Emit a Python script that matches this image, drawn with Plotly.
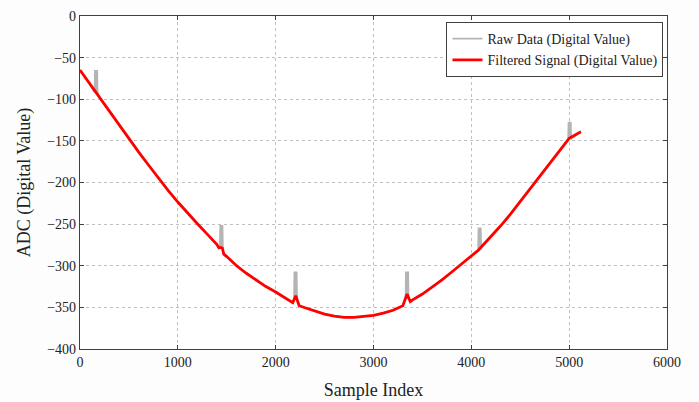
import plotly.graph_objects as go

# Filtered (smoothed) ADC signal: sample index -> digital value
filt_idx = [0, 100, 200, 300, 400, 500, 600, 700, 800, 900, 1000, 1100, 1200,
            1300, 1400, 1420, 1440, 1455, 1470, 1500, 1600, 1700, 1800, 1900,
            2000, 2100, 2175, 2205, 2240, 2300, 2400, 2500, 2600, 2700, 2800,
            2900, 3000, 3100, 3200, 3300, 3343, 3376, 3400, 3500, 3600, 3700,
            3800, 3900, 4000, 4070, 4090, 4110, 4200, 4300, 4400, 4500, 4600,
            4700, 4800, 4900, 5000, 5120]
filt_val = [-65, -81.5, -98, -114.5, -131, -147.5, -163.5, -179, -194.5, -209.5,
            -223.5, -237, -249.5, -262, -274.5, -278.5, -278, -279, -286, -289,
            -300, -309, -317.5, -325, -331.5, -338.5, -344.5, -336, -348,
            -350.5, -354.5, -358, -360.5, -362, -362, -361, -359.5, -357,
            -353.5, -348, -334, -343, -341, -334, -326, -317, -307.5, -298,
            -289, -281.5, -279, -276.5, -265.5, -252, -238, -223, -208, -193,
            -177.5, -162, -147, -139]

# Raw samples: same trace as the filtered signal apart from short glitch bursts
glitch_idx = [164, 1445, 2203, 3343, 4085, 5005]
glitch_top = [-65, -251, -307, -307, -254, -127]
glitch_base = [-92, -279, -340, -340, -280, -148]

burst_offsets = [-16, -12, -8, -4, 0, 4, 8, 12, 16]

raw_x, raw_y = [], []
gi = 0
for sx, sv in zip(filt_idx, filt_val):
    while gi < len(glitch_idx) and glitch_idx[gi] < sx:
        for k, off in enumerate(burst_offsets):
            raw_x.append(glitch_idx[gi] + off)
            raw_y.append(glitch_top[gi] if k % 2 else glitch_base[gi])
        gi += 1
    raw_x.append(sx)
    raw_y.append(sv)

FONT = "Liberation Serif, Times New Roman, serif"

fig = go.Figure()
fig.add_trace(go.Scatter(
    x=raw_x, y=raw_y, mode="lines", name="Raw Data (Digital Value)",
    line=dict(color="#b4b4b4", width=1.6),
))
fig.add_trace(go.Scatter(
    x=filt_idx, y=filt_val, mode="lines", name="Filtered Signal (Digital Value)",
    line=dict(color="#ff0000", width=2.8),
))

axis_common = dict(
    showgrid=True, gridcolor="#c0c0c0", griddash="dot", gridwidth=1,
    showline=True, linecolor="#404040", linewidth=1.2, mirror="ticks",
    ticks="inside", ticklen=4, tickcolor="#404040",
    tickfont=dict(family=FONT, size=14, color="#222222"),
    zeroline=False, automargin=False,
)

fig.update_layout(
    width=699, height=402,
    margin=dict(l=80, r=32, t=16, b=53),
    paper_bgcolor="#fdfdfd", plot_bgcolor="#ffffff",
    font=dict(family=FONT, color="#222222"),
    showlegend=True,
    legend=dict(
        x=0.994, y=0.982, xanchor="right", yanchor="top",
        bgcolor="#ffffff", bordercolor="#404040", borderwidth=1,
        font=dict(family=FONT, size=14, color="#222222"),
        tracegroupgap=0,
    ),
    xaxis=dict(
        range=[0, 6000], dtick=1000, tick0=0,
        title=dict(text="Sample Index", font=dict(family=FONT, size=18), standoff=14),
        **axis_common,
    ),
    yaxis=dict(
        range=[-400, 0], dtick=50, tick0=0,
        title=dict(text="ADC (Digital Value)", font=dict(family=FONT, size=18), standoff=11),
        **axis_common,
    ),
)

fig.write_html("out.html")
